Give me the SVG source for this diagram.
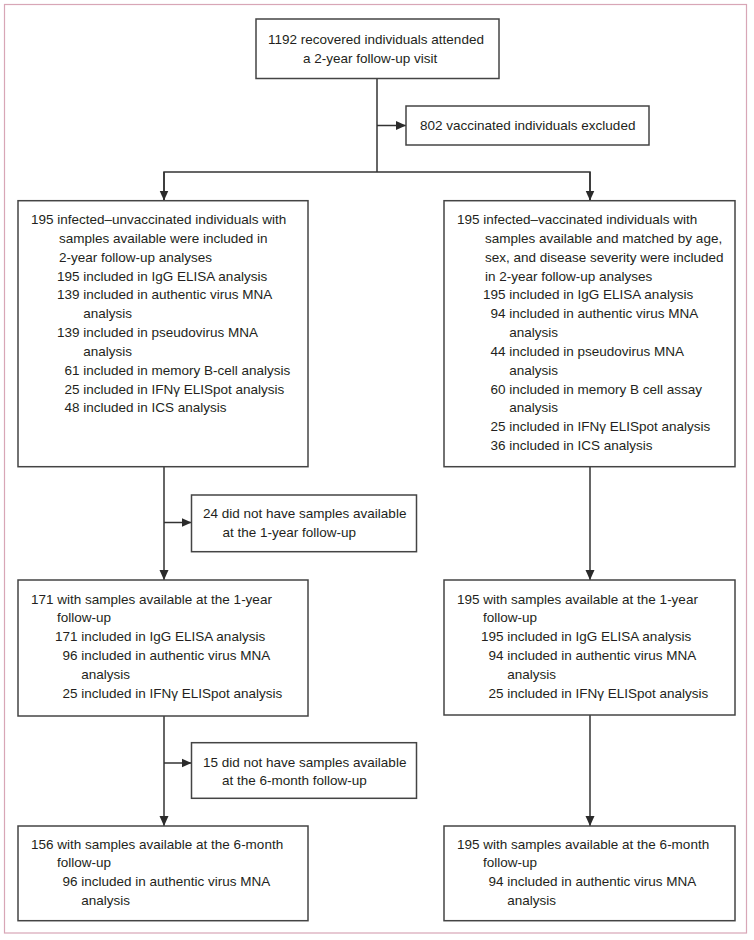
<svg xmlns="http://www.w3.org/2000/svg" width="754" height="940" viewBox="0 0 754 940">
<defs>
<marker id="arr" markerUnits="userSpaceOnUse" markerWidth="10" markerHeight="10" refX="10" refY="5" orient="auto">
<path d="M0,0.5 L10,5 L0,9.5 z" fill="#2b2b2b"/>
</marker>
</defs>
<style>
.box{fill:#ffffff;stroke:#444444;stroke-width:1.5}
.t{font-family:"Liberation Sans",Arial,sans-serif;font-size:13.5px;fill:#231f20}
.c{fill:none;stroke:#333333;stroke-width:1.5}
.frame{fill:none;stroke:#d8a6b6;stroke-width:1.2}
</style>
<rect x="0" y="0" width="754" height="940" fill="#ffffff"/>
<rect class="frame" x="4.5" y="4.5" width="742" height="928.5"/>

<g id="connectors">
<line class="c" x1="377" y1="78.5" x2="377" y2="172"/>
<line class="c" x1="377" y1="125.5" x2="406" y2="125.5" marker-end="url(#arr)"/>
<polyline class="c" points="164,200.5 164,172 590,172 590,200.5"/>
<line class="c" x1="164" y1="172" x2="164" y2="200.5" marker-end="url(#arr)"/>
<line class="c" x1="590" y1="172" x2="590" y2="200.5" marker-end="url(#arr)"/>
<line class="c" x1="164" y1="467" x2="164" y2="580" marker-end="url(#arr)"/>
<line class="c" x1="164" y1="522.5" x2="191.5" y2="522.5" marker-end="url(#arr)"/>
<line class="c" x1="164" y1="716" x2="164" y2="826" marker-end="url(#arr)"/>
<line class="c" x1="164" y1="763" x2="191.5" y2="763" marker-end="url(#arr)"/>
<line class="c" x1="590" y1="467" x2="590" y2="580" marker-end="url(#arr)"/>
<line class="c" x1="590" y1="715" x2="590" y2="826" marker-end="url(#arr)"/>
</g>

<g id="n-attended">
<rect class="box" x="256" y="19" width="243" height="59.5"/>
<text class="t" x="268" y="44">1192 recovered individuals attended</text>
<text class="t" x="303" y="63">a 2-year follow-up visit</text>
</g>

<g id="n-excluded-vaccinated">
<rect class="box" x="406" y="106" width="243" height="39"/>
<text class="t" x="420" y="130">802 vaccinated individuals excluded</text>
</g>

<g id="n-unvacc-2y">
<rect class="box" x="18" y="200.7" width="290" height="266"/>
<text class="t" x="31" y="224">195 infected–unvaccinated individuals with</text>
<text class="t" x="59" y="242.8">samples available were included in</text>
<text class="t" x="59" y="261.7">2-year follow-up analyses</text>
<text class="t" x="57" y="280.5">195 included in IgG ELISA analysis</text>
<text class="t" x="57" y="299.3">139 included in authentic virus MNA</text>
<text class="t" x="83.3" y="318.2">analysis</text>
<text class="t" x="57" y="337">139 included in pseudovirus MNA</text>
<text class="t" x="83.3" y="355.8">analysis</text>
<text class="t" x="64.5" y="374.6">61 included in memory B-cell analysis</text>
<text class="t" x="64.5" y="393.5">25 included in IFNγ ELISpot analysis</text>
<text class="t" x="64.5" y="412.3">48 included in ICS analysis</text>
</g>

<g id="n-vacc-2y">
<rect class="box" x="444" y="200.7" width="291" height="266"/>
<text class="t" x="457" y="224">195 infected–vaccinated individuals with</text>
<text class="t" x="485" y="242.8">samples available and matched by age,</text>
<text class="t" x="485" y="261.7">sex, and disease severity were included</text>
<text class="t" x="485" y="280.5">in 2-year follow-up analyses</text>
<text class="t" x="483" y="299.3">195 included in IgG ELISA analysis</text>
<text class="t" x="490.5" y="318.2">94 included in authentic virus MNA</text>
<text class="t" x="509.3" y="337">analysis</text>
<text class="t" x="490.5" y="355.8">44 included in pseudovirus MNA</text>
<text class="t" x="509.3" y="374.6">analysis</text>
<text class="t" x="490.5" y="393.5">60 included in memory B cell assay</text>
<text class="t" x="509.3" y="412.3">analysis</text>
<text class="t" x="490.5" y="431.1">25 included in IFNγ ELISpot analysis</text>
<text class="t" x="490.5" y="450">36 included in ICS analysis</text>
</g>

<g id="n-missing-1y">
<rect class="box" x="191.5" y="495" width="225" height="56.7"/>
<text class="t" x="203" y="518">24 did not have samples available</text>
<text class="t" x="222.5" y="537">at the 1-year follow-up</text>
</g>

<g id="n-unvacc-1y">
<rect class="box" x="18" y="580" width="290" height="136"/>
<text class="t" x="31" y="603.5">171 with samples available at the 1-year</text>
<text class="t" x="57" y="622.4">follow-up</text>
<text class="t" x="55" y="641.3">171 included in IgG ELISA analysis</text>
<text class="t" x="62.5" y="660.2">96 included in authentic virus MNA</text>
<text class="t" x="81.3" y="679.1">analysis</text>
<text class="t" x="62.5" y="698">25 included in IFNγ ELISpot analysis</text>
</g>

<g id="n-vacc-1y">
<rect class="box" x="444" y="580" width="291" height="135"/>
<text class="t" x="457" y="603.5">195 with samples available at the 1-year</text>
<text class="t" x="483" y="622.4">follow-up</text>
<text class="t" x="481" y="641.3">195 included in IgG ELISA analysis</text>
<text class="t" x="488.5" y="660.2">94 included in authentic virus MNA</text>
<text class="t" x="507.3" y="679.1">analysis</text>
<text class="t" x="488.5" y="698">25 included in IFNγ ELISpot analysis</text>
</g>

<g id="n-missing-6m">
<rect class="box" x="191.5" y="742.7" width="225" height="55.6"/>
<text class="t" x="203" y="766.7">15 did not have samples available</text>
<text class="t" x="222" y="785.3">at the 6-month follow-up</text>
</g>

<g id="n-unvacc-6m">
<rect class="box" x="18" y="826" width="290" height="94.7"/>
<text class="t" x="31" y="848.5">156 with samples available at the 6-month</text>
<text class="t" x="57" y="867.3">follow-up</text>
<text class="t" x="62.5" y="886.1">96 included in authentic virus MNA</text>
<text class="t" x="81.3" y="905">analysis</text>
</g>

<g id="n-vacc-6m">
<rect class="box" x="444" y="826" width="291" height="94.7"/>
<text class="t" x="457" y="848.5">195 with samples available at the 6-month</text>
<text class="t" x="483" y="867.3">follow-up</text>
<text class="t" x="488.5" y="886.1">94 included in authentic virus MNA</text>
<text class="t" x="507.3" y="905">analysis</text>
</g>
</svg>
